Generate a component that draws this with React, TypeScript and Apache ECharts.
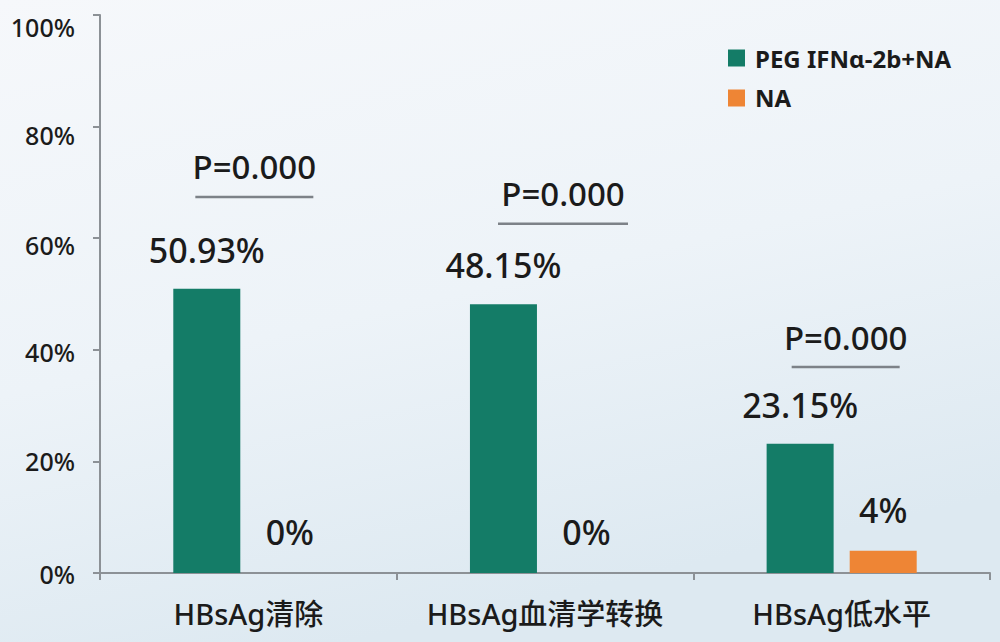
import React, { useEffect, useRef } from "react";
import * as echarts from "echarts";

const categories = ["HBsAg清除", "HBsAg血清学转换", "HBsAg低水平"];
const seriesNames = ["PEG IFNα-2b+NA", "NA"];
const pegValues = [50.93, 48.15, 23.15];
const naValues = [0, 0, 4];
const pCategoryIndex = [0, 1, 2];
const pLineLevels = [67.4, 62.6, 36.9];
const pTexts = ["P=0.000", "P=0.000", "P=0.000"];

const GREEN = "#147c67";
const ORANGE = "#ee8535";
const TEXT = "#1b1b1b";
const FONT = "'Noto Sans', 'Noto Sans CJK SC', sans-serif";
const pShift = [6, 18, 4];
const pHalf = [59, 65, 54];
// downward nudge (px) of y-axis labels, as seen in the reference
const yLabelNudge: Record<string, number> = { "100": 12, "80": 8, "60": 7, "40": 2, "20": 0, "0": 1 };

export default function App() {
  const ref = useRef<HTMLDivElement>(null);
  useEffect(() => {
    if (!ref.current) return;
    const chart = echarts.init(ref.current, null, { renderer: "svg" });
    const rich: any = {};
    Object.keys(yLabelNudge).forEach((k) => {
      rich["s" + k] = {
        fontSize: 25,
        fontFamily: FONT,
        fontWeight: 500,
        color: TEXT,
        padding: [yLabelNudge[k] * 2, 0, 0, 0],
      };
    });
    const option: any = {
      animation: false,
      backgroundColor: {
        type: "linear",
        x: 0,
        y: 0,
        x2: 0.35,
        y2: 1,
        colorStops: [
          { offset: 0, color: "#f6f8fb" },
          { offset: 0.55, color: "#edf3f8" },
          { offset: 1, color: "#dde9f1" },
        ],
      },
      textStyle: { fontFamily: FONT },
      grid: { left: 100, right: 10, top: 15, bottom: 69, containLabel: false },
      legend: {
        orient: "vertical",
        left: 728,
        top: 46,
        padding: 0,
        icon: "rect",
        itemWidth: 17,
        itemHeight: 17,
        itemGap: 16,
        data: seriesNames,
        textStyle: {
          fontFamily: FONT,
          fontSize: 24,
          fontWeight: "bold",
          color: TEXT,
          lineHeight: 23,
          padding: [0, 0, 0, 5],
        },
      },
      xAxis: {
        type: "category",
        data: categories,
        axisLine: { show: true, lineStyle: { color: "#8c9196", width: 2 } },
        axisTick: { show: true, length: 7, lineStyle: { color: "#8c9196", width: 2 } },
        axisLabel: {
          interval: 0,
          fontSize: 29,
          fontWeight: 500,
          color: TEXT,
          margin: 26,
          fontFamily: FONT,
        },
        splitLine: { show: false },
      },
      yAxis: {
        type: "value",
        min: 0,
        max: 100,
        interval: 20,
        axisLine: { show: true, lineStyle: { color: "#8c9196", width: 2 } },
        axisTick: { show: true, length: 7, lineStyle: { color: "#8c9196", width: 2 } },
        axisLabel: {
          formatter: (v: number) => `{s${v}|${v}%}`,
          rich,
          fontSize: 25,
          color: TEXT,
          margin: 25,
          fontFamily: FONT,
        },
        splitLine: { show: false },
      },
      series: [
        {
          name: seriesNames[0],
          type: "bar",
          data: pegValues,
          barWidth: 67,
          barGap: "24%",
          itemStyle: { color: GREEN },
          label: {
            show: true,
            position: "top",
            distance: 22,
            fontSize: 34,
            fontWeight: 500,
            color: TEXT,
            fontFamily: FONT,
            formatter: (p: any) => `${p.value}%`,
          },
        },
        {
          name: seriesNames[1],
          type: "bar",
          data: naValues,
          barWidth: 67,
          barGap: "24%",
          itemStyle: { color: ORANGE },
          label: {
            show: true,
            position: "top",
            distance: 24,
            fontSize: 34,
            fontWeight: 500,
            color: TEXT,
            fontFamily: FONT,
            formatter: (p: any) => `${p.value}%`,
          },
        },
        {
          type: "custom",
          silent: true,
          z: 10,
          data: pCategoryIndex.map((c, i) => [c, pLineLevels[i]]),
          renderItem: (params: any, api: any) => {
            const i = params.dataIndex;
            const c = api.coord([api.value(0), api.value(1)]);
            const cx = c[0] + pShift[i];
            const cy = c[1];
            return {
              type: "group",
              children: [
                {
                  type: "line",
                  shape: { x1: cx - pHalf[i], y1: cy, x2: cx + pHalf[i], y2: cy },
                  style: { stroke: "#7d8288", lineWidth: 2.5 },
                },
                {
                  type: "text",
                  x: cx,
                  y: cy - 30,
                  style: {
                    text: pTexts[i],
                    fontSize: 33,
                    fontWeight: 500,
                    fontFamily: FONT,
                    fill: TEXT,
                    align: "center",
                    verticalAlign: "middle",
                  },
                },
              ],
            };
          },
        },
      ],
    };
    chart.setOption(option);
    return () => chart.dispose();
  }, []);
  return (
    <div
      ref={ref}
      style={{ position: "fixed", left: 0, top: 0, width: 1000, height: 642 }}
    />
  );
}
